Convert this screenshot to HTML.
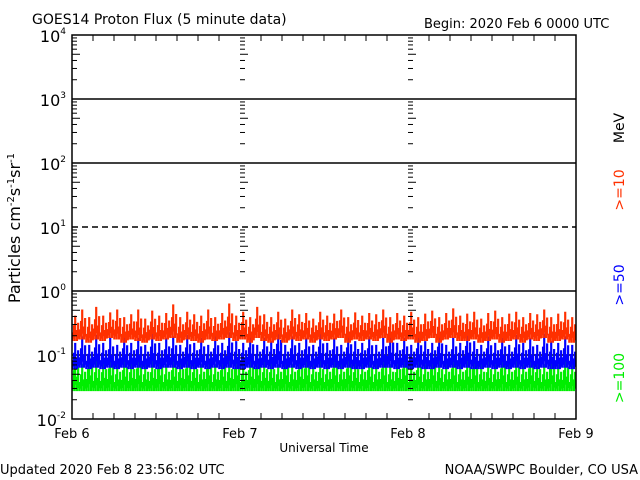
<!DOCTYPE html>
<html><head><meta charset="utf-8"><style>
body{margin:0;background:#fff;}
svg{display:block;font-family:"DejaVu Sans","Liberation Sans",sans-serif;}
</style></head><body>
<svg id="chart" width="640" height="480" viewBox="0 0 640 480">
<rect width="640" height="480" fill="#fff"/>
<text x="32" y="24" font-size="14">GOES14 Proton Flux (5 minute data)</text>
<text x="424" y="28" font-size="13">Begin: 2020 Feb 6 0000 UTC</text>
<g id="grid"></g>
<g id="series"></g>
<rect x="72" y="35" width="504" height="384" fill="none" stroke="#000" stroke-width="1.5"/>
<g id="ticks"></g>
<text x="20" y="228" font-size="16" transform="rotate(-90 20 228)" text-anchor="middle">Particles cm<tspan dy="-6" font-size="10">-2</tspan><tspan dy="6">s</tspan><tspan dy="-6" font-size="10">-1</tspan><tspan dy="6">sr</tspan><tspan dy="-6" font-size="10">-1</tspan></text>
<text x="324" y="452" font-size="12" text-anchor="middle">Universal Time</text>
<text x="624" y="128" font-size="14" transform="rotate(-90 624 128)" text-anchor="middle">MeV</text>
<text x="624" y="190" font-size="14" fill="#ff3000" transform="rotate(-90 624 190)" text-anchor="middle">&gt;=10</text>
<text x="624" y="285" font-size="14" fill="#0000ff" transform="rotate(-90 624 285)" text-anchor="middle">&gt;=50</text>
<text x="624" y="378" font-size="14" fill="#00ee00" transform="rotate(-90 624 378)" text-anchor="middle">&gt;=100</text>
<text x="0" y="474" font-size="13">Updated 2020 Feb  8 23:56:02 UTC</text>
<text x="638" y="474" font-size="13" text-anchor="end">NOAA/SWPC Boulder, CO USA</text>
</svg>
<script>
const xLabels=["Feb 6","Feb 7","Feb 8","Feb 9"];
const yExps=[4,3,2,1,0,-1,-2];
// hourly maxima
const redHi=[0.4,0.5,0.38,0.55,0.4,0.45,0.5,0.38,0.42,0.5,0.36,0.48,0.4,0.44,0.6,0.38,0.46,0.42,0.4,0.5,0.38,0.44,0.62,0.4,
0.46,0.38,0.55,0.42,0.38,0.46,0.36,0.5,0.42,0.44,0.36,0.46,0.4,0.43,0.5,0.38,0.45,0.4,0.44,0.42,0.5,0.38,0.44,0.4,
0.46,0.38,0.43,0.48,0.38,0.44,0.52,0.4,0.43,0.46,0.36,0.44,0.48,0.38,0.43,0.46,0.38,0.44,0.42,0.5,0.38,0.43,0.46,0.38];
// hourly minima
const redLo=[0.17,0.18,0.16,0.18,0.17,0.19,0.18,0.16,0.18,0.17,0.16,0.18,0.17,0.18,0.19,0.16,0.18,0.17,0.16,0.18,0.17,0.18,0.19,0.17,
0.18,0.16,0.19,0.17,0.16,0.18,0.16,0.18,0.17,0.18,0.16,0.18,0.17,0.18,0.19,0.16,0.18,0.17,0.18,0.17,0.19,0.16,0.18,0.17,
0.18,0.16,0.17,0.19,0.16,0.18,0.19,0.17,0.17,0.18,0.16,0.17,0.18,0.16,0.17,0.18,0.16,0.18,0.17,0.19,0.16,0.17,0.18,0.16];
const blueHi=[0.15,0.19,0.14,0.2,0.15,0.18,0.14,0.19,0.15,0.18,0.14,0.21,0.15,0.18,0.19,0.14,0.2,0.15,0.18,0.14,0.19,0.15,0.22,0.16,
0.15,0.2,0.14,0.18,0.16,0.25,0.14,0.19,0.15,0.18,0.14,0.21,0.15,0.18,0.14,0.2,0.16,0.15,0.19,0.14,0.18,0.22,0.15,0.18,
0.14,0.19,0.16,0.15,0.21,0.14,0.18,0.15,0.22,0.16,0.14,0.19,0.15,0.18,0.14,0.2,0.15,0.18,0.14,0.21,0.16,0.15,0.19,0.14];
const blueLo=[0.062,0.065,0.062,0.065,0.062,0.065,0.062,0.065,0.062,0.065,0.062,0.065,0.062,0.065,0.065,0.062,0.065,0.062,0.065,0.062,0.065,0.062,0.065,0.062,
0.062,0.065,0.062,0.065,0.062,0.065,0.062,0.065,0.062,0.065,0.062,0.065,0.062,0.065,0.062,0.065,0.062,0.062,0.065,0.062,0.065,0.065,0.062,0.065,
0.062,0.065,0.062,0.062,0.065,0.062,0.065,0.062,0.065,0.062,0.062,0.065,0.062,0.065,0.062,0.065,0.062,0.065,0.062,0.065,0.062,0.062,0.065,0.062];
const greenHi=[0.09,0.07,0.1,0.08,0.08,0.1,0.07,0.09,0.08,0.1,0.07,0.08,0.1,0.07,0.09,0.08,0.1,0.08,0.07,0.1,0.07,0.09,0.08,0.1,
0.07,0.09,0.1,0.08,0.08,0.07,0.1,0.07,0.09,0.1,0.07,0.08,0.07,0.1,0.07,0.1,0.08,0.07,0.09,0.07,0.1,0.07,0.08,0.1,
0.07,0.09,0.07,0.1,0.08,0.07,0.1,0.07,0.09,0.1,0.07,0.08,0.07,0.1,0.07,0.09,0.07,0.1,0.08,0.07,0.1,0.07,0.09,0.07];
const greenLo=[0.028,0.028,0.028,0.028,0.028,0.028,0.028,0.028,0.028,0.028,0.028,0.028,0.028,0.028,0.028,0.028,0.028,0.028,0.028,0.028,0.028,0.028,0.028,0.028,
0.028,0.028,0.028,0.028,0.028,0.028,0.028,0.028,0.028,0.028,0.028,0.028,0.028,0.028,0.028,0.028,0.028,0.028,0.028,0.028,0.028,0.028,0.028,0.028,
0.028,0.028,0.028,0.028,0.028,0.028,0.028,0.028,0.028,0.028,0.028,0.028,0.028,0.028,0.028,0.028,0.028,0.028,0.028,0.028,0.028,0.028,0.028,0.028];
const NS="http://www.w3.org/2000/svg";
const X0=72,X1=576,YTOP=35,YBOT=419;
const xs=h=>X0+(X1-X0)*h/72;
const ys=v=>291-64*Math.log10(v);
function mk(tag,attrs,parent){const e=document.createElementNS(NS,tag);for(const k in attrs)e.setAttribute(k,attrs[k]);parent.appendChild(e);return e;}
const grid=document.getElementById('grid'),ticks=document.getElementById('ticks'),series=document.getElementById('series');
yExps.forEach(p=>{
  const y=ys(Math.pow(10,p));
  if(p<4&&p>-2){
    const l=mk('line',{x1:X0,x2:X1,y1:y,y2:y,stroke:'#000','stroke-width':1.5,'stroke-dasharray':p===1?'6,4':'none'},grid);
    
    
  }
  const t=mk('text',{x:X0-6,y:y+7,'font-size':16,'text-anchor':'end'},ticks);
  
  
  t.textContent='10';
  const s=mk('tspan',{dy:-8,'font-size':9},t);s.textContent=String(p);
  if(p>-2){for(let m=2;m<=9;m++){const yy=ys(Math.pow(10,p-1)*m);const len=m===5?8:5;
    [X0,240,408].forEach(xx=>{const tk=mk('line',{x1:xx,x2:xx+len,y1:yy,y2:yy,stroke:'#000','stroke-width':1},ticks);
      });}}
});
for(let h=0;h<=72;h+=3){
  const x=xs(h);const len=h%24===0?0:6;
  if(len){[[YTOP,YTOP+len],[YBOT-len,YBOT]].forEach(([a,b])=>{const tk=mk('line',{x1:x,x2:x,y1:a,y2:b,stroke:'#000','stroke-width':1},ticks);
    });}
}
xLabels.forEach((lab,i)=>{const t=mk('text',{x:xs(i*24),y:438,'font-size':13,'text-anchor':'middle'},ticks);
  t.textContent=lab;});
// fixed visual sampling pattern within each hour (log-fraction between hourly low and high)
const pattern=[0,0.3,0.1,0.6,0,1,0.2,0.4,0,0.25,0.7,0.1];
function draw(hi,lo,color,name){
  let d='';
  hi.forEach((v,i)=>{
    pattern.forEach((f,k)=>{
      const x0=xs(i+k/12),x1=xs(i+(k+1)/12);
      const y=ys(lo[i]*Math.pow(v/lo[i],f));
      d+=(d?'L':'M')+x0.toFixed(2)+','+y.toFixed(2)+'L'+x1.toFixed(2)+','+y.toFixed(2);
    });
  });
  const p=mk('path',{d:d,fill:'none',stroke:color,'stroke-width':1.6},series);
  
  
}
draw(greenHi,greenLo,'#00ee00','series-ge100');
draw(blueHi,blueLo,'#0000ff','series-ge50');
draw(redHi,redLo,'#ff3000','series-ge10');
</script>
</body></html>
